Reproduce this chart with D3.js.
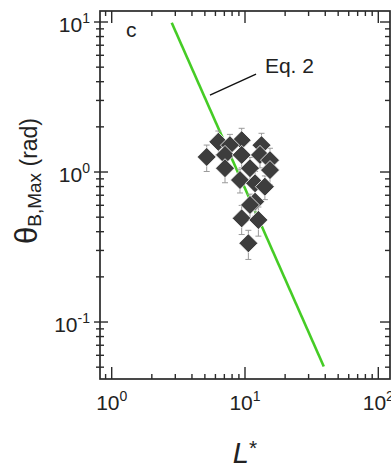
<!DOCTYPE html>
<html>
<head>
<meta charset="utf-8">
<script src="https://cdn.jsdelivr.net/npm/d3@7"></script>
<style>
    body { margin: 0; background: #fff; }
    svg text { font-family: 'Liberation Sans', Arial, sans-serif; fill: #222; }
</style>
</head>
<body>
<div id="chart"></div>
<script>
(function () {'use strict';

// Measured points (L*, theta_B,Max in rad) and relative error bars
var lStar = [6.31, 5.16, 9.44, 7.71, 7.08, 9.44, 13.3, 12.96, 15.4, 7.08,
             10.9, 15.4, 9.17, 11.9, 14.1, 11.9, 10.9, 9.44, 12.6, 10.6];
var thetaMax = [1.59, 1.26, 1.63, 1.51, 1.30, 1.30, 1.51, 1.30, 1.20, 1.06,
                1.06, 1.03, 0.884, 0.841, 0.798, 0.634, 0.603, 0.491, 0.479, 0.335];
var thetaErr = [0.18, 0.20, 0.20, 0.18, 0.20, 0.18, 0.20, 0.18, 0.20, 0.20,
                0.18, 0.20, 0.18, 0.20, 0.18, 0.20, 0.18, 0.22, 0.22, 0.22];

// Eq. 2 line end points
var eqL = [2.82, 39.0];
var eqTheta = [9.9, 0.0505];

var xMajor = [1, 10, 100];
var yMajor = [0.1, 1, 10];
var xTickExp = ['0', '1', '2'];
var yTickExp = ['-1', '0', '1'];

var W = 391, H = 471;
var margin = { top: 11, right: 1, bottom: 92, left: 100 };
var width = W - margin.left - margin.right,
    height = H - margin.top - margin.bottom;

var x = d3.scaleLog().domain([0.817, 122.4]).range([0, width]);
var y = d3.scaleLog().domain([0.0417, 11.84]).range([height, 0]);

var svg = d3.select('#chart')
    .append('svg')
        .attr('width', W)
        .attr('height', H);

var chart = svg.append('g')
    .attr('transform', 'translate(' + margin.left + ',' + margin.top + ')');

function minorTicks(scale) {
    var d = scale.domain(), out = [];
    for (var e = Math.floor(Math.log10(d[0])); e <= Math.ceil(Math.log10(d[1])); e++) {
        for (var m = 1; m < 10; m++) {
            var v = m * Math.pow(10, e);
            if (v >= d[0] && v <= d[1]) out.push(v);
        }
    }
    return out;
}

var axisColor = '#2a2a2a';
var xt = minorTicks(x), yt = minorTicks(y);
function isMajor(v) { return Math.abs(Math.log10(v) - Math.round(Math.log10(v))) < 1e-6; }

/*
 * TICKS
 */
var ticks = chart.append('g')
    .attr('stroke', axisColor)
    .attr('stroke-width', 1.4);

// bottom (inside)
ticks.selectAll('.tb').data(xt).enter().append('line')
    .attr('x1', function (d) { return x(d); })
    .attr('x2', function (d) { return x(d); })
    .attr('y1', height)
    .attr('y2', function (d) { return height - (isMajor(d) ? 12 : 5); });

// top (inside)
ticks.selectAll('.tt').data(xt).enter().append('line')
    .attr('x1', function (d) { return x(d); })
    .attr('x2', function (d) { return x(d); })
    .attr('y1', 0)
    .attr('y2', function (d) { return isMajor(d) ? 12 : 5; });

// left (crossing)
ticks.selectAll('.tl').data(yt).enter().append('line')
    .attr('y1', function (d) { return y(d); })
    .attr('y2', function (d) { return y(d); })
    .attr('x1', function (d) { return isMajor(d) ? -6 : -4; })
    .attr('x2', function (d) { return isMajor(d) ? 8 : 4; });

// right (inside)
ticks.selectAll('.tr').data(yt).enter().append('line')
    .attr('y1', function (d) { return y(d); })
    .attr('y2', function (d) { return y(d); })
    .attr('x1', width)
    .attr('x2', function (d) { return width - (isMajor(d) ? 10 : 5); });

// frame
chart.append('rect')
    .attr('x', 0)
    .attr('y', 0)
    .attr('width', width)
    .attr('height', height)
    .attr('fill', 'none')
    .attr('stroke', axisColor)
    .attr('stroke-width', 1.7);

/*
 * TICK LABELS
 */
var xl = chart.selectAll('.xlab').data(xMajor).enter().append('text')
    .attr('class', 'xlab')
    .attr('x', function (d) { return x(d); })
    .attr('y', height + 31)
    .attr('text-anchor', 'middle')
    .attr('font-size', 21);
xl.append('tspan').text('10');
xl.append('tspan')
    .attr('font-size', 14)
    .attr('dy', -9)
    .text(function (d, i) { return xTickExp[i]; });

var yl = chart.selectAll('.ylab').data(yMajor).enter().append('text')
    .attr('class', 'ylab')
    .attr('x', -10)
    .attr('y', function (d) { return y(d) + 10; })
    .attr('text-anchor', 'end')
    .attr('font-size', 21);
yl.append('tspan').text('10');
yl.append('tspan')
    .attr('font-size', 14)
    .attr('dy', -9)
    .text(function (d, i) { return yTickExp[i]; });

/*
 * AXIS TITLES
 */
chart.append('text')
    .attr('x', x(10))
    .attr('y', height + 84)
    .attr('text-anchor', 'middle')
    .attr('font-size', 29)
    .html('<tspan font-style="italic">L</tspan><tspan font-size="21" dy="-8">*</tspan>');

var yTitle = svg.append('text')
    .attr('transform', 'translate(37,' + 181 + ') rotate(-90)')
    .attr('text-anchor', 'middle')
    .attr('font-size', 23);
yTitle.append('tspan').attr('font-size', 31).text('\u03B8');
yTitle.append('tspan').attr('font-size', 19).attr('dy', 4).text('B,Max');
yTitle.append('tspan').attr('dy', -4).text(' (rad)');

/*
 * EQ. 2 LINE
 */
var eqData = eqL.map(function (l, i) { return [l, eqTheta[i]]; });
chart.append('path')
    .datum(eqData)
    .attr('fill', 'none')
    .attr('stroke', '#45cc25')
    .attr('stroke-width', 2.6)
    .attr('d', d3.line()
        .x(function (d) { return x(d[0]); })
        .y(function (d) { return y(d[1]); }));

// leader + label
chart.append('line')
    .attr('x1', x(5.46)).attr('y1', y(3.26))
    .attr('x2', x(12.1)).attr('y2', y(4.5))
    .attr('stroke', '#111')
    .attr('stroke-width', 1.4);

chart.append('text')
    .attr('x', x(14.1))
    .attr('y', y(4.6))
    .attr('font-size', 21)
    .text('Eq. 2');

chart.append('text')
    .attr('x', 26)
    .attr('y', 26)
    .attr('font-size', 21)
    .text('c');

/*
 * DATA
 */
var points = lStar.map(function (l, i) {
    return { l: l, t: thetaMax[i], e: thetaErr[i] };
});

var err = chart.append('g')
    .attr('stroke', '#9a9a9a')
    .attr('stroke-width', 1);

points.forEach(function (p) {
    var cx = x(p.l), y1 = y(p.t * (1 + p.e)), y2 = y(p.t * (1 - p.e));
    err.append('line').attr('x1', cx).attr('x2', cx).attr('y1', y1).attr('y2', y2);
    err.append('line').attr('x1', cx - 3).attr('x2', cx + 3).attr('y1', y1).attr('y2', y1);
    err.append('line').attr('x1', cx - 3).attr('x2', cx + 3).attr('y1', y2).attr('y2', y2);
});

var r = 9.5;
chart.selectAll('.pt').data(points).enter().append('path')
    .attr('class', 'pt')
    .attr('d', 'M0,' + (-r) + 'L' + r + ',0L0,' + r + 'L' + (-r) + ',0Z')
    .attr('transform', function (d) { return 'translate(' + x(d.l) + ',' + y(d.t) + ')'; })
    .attr('fill', '#3d3d3d')
    .attr('stroke', '#fff')
    .attr('stroke-width', 0.8);

})();
</script>
</body>
</html>
